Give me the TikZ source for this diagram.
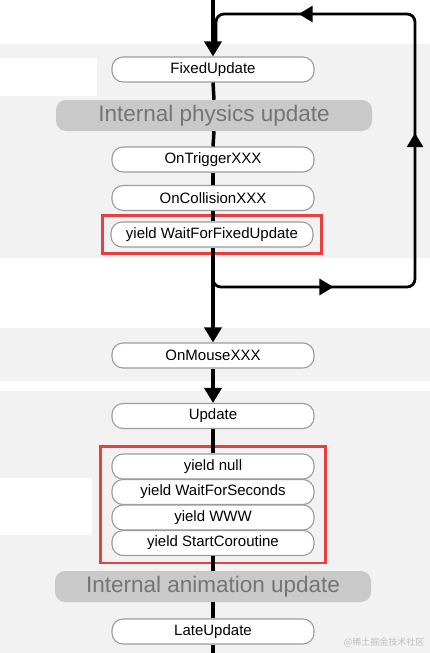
\documentclass[tikz,border=0pt]{standalone}
\usepackage{fontspec}
\setmainfont{Liberation Sans}
\newfontfamily\cjk{Noto Sans CJK SC}
\usetikzlibrary{arrows.meta,decorations.markings,fit}
\definecolor{bandgray}{HTML}{F2F2F2}
\definecolor{lblfill}{HTML}{C9C9C9}
\definecolor{lbltext}{HTML}{757575}
\definecolor{evtborder}{HTML}{9C9C9C}
\definecolor{redmark}{HTML}{E8403F}
\tikzset{
  evt/.style={draw=evtborder, line width=1.1pt, fill=white, rounded corners=11pt,
    minimum width=202pt, minimum height=25pt, inner sep=0pt,
    font=\fontsize{15}{17}\selectfont},
  lbl/.style={fill=lblfill, rounded corners=10pt, minimum width=316pt,
    minimum height=31pt, inner sep=0pt, text=lbltext,
    font=\fontsize{22.5}{25}\selectfont},
  redbox/.style={draw=redmark, line width=2.8pt, inner sep=0pt},
  mainline/.style={line width=3.5pt, black},
  tip/.style={-{Triangle[length=15pt,width=17pt]}},
  loopline/.style={line width=2.8pt, black, rounded corners=8pt},
  midtip/.tip={Triangle[length=14pt,width=16pt]}
}
\begin{document}
\begin{tikzpicture}[x=1pt,y=-1pt]
\useasboundingbox (0,0) rectangle (430,653);
% background bands
\fill[bandgray] (0,44) rectangle (430,258);
\fill[bandgray] (0,328) rectangle (430,381);
\fill[bandgray] (0,391) rectangle (430,653);
% white patches
\fill[white] (0,58) rectangle (97,96);
\fill[white] (0,478) rectangle (92,535);

% coordinates
\coordinate (top) at (213,0);
\coordinate (bot) at (213,653);
\coordinate (ls) at (213,262);
\coordinate (lb) at (415,287);
\coordinate (lt) at (415,14);
\coordinate (le) at (216,42);

% nodes
\node[evt] (fixed) at (213,69.5) {FixedUpdate};
\node[lbl] (phys) at (214,115.5) {Internal physics update};
\node[evt] (trig) at (213,159.5) {OnTriggerXXX};
\node[evt] (coll) at (213,198) {OnCollisionXXX};
\node[evt] (wffu) at (212,234.5) {yield WaitForFixedUpdate};
\node[evt] (mouse) at (213,355.5) {OnMouseXXX};
\node[evt] (update) at (213,416) {Update};
\node[evt] (ynull) at (213,466.5) {yield null};
\node[evt] (ywait) at (213,492) {yield WaitForSeconds};
\node[evt] (ywww) at (213,517.5) {yield WWW};
\node[evt] (ystart) at (213,543) {yield StartCoroutine};
\node[lbl] (anim) at (213,586.5) {Internal animation update};
\node[evt] (late) at (213,631.5) {LateUpdate};

% red highlight boxes
\node[redbox, inner xsep=8pt, inner ysep=6pt, fit=(wffu)] (red1) {};
\node[redbox, inner xsep=11pt, inner ysep=7pt, fit=(ynull)(ystart)] (red2) {};

% main flow
\draw[mainline, tip] (top) -- (fixed.north);
\draw[mainline] (fixed.south) -- (phys.north);
\draw[mainline] (phys.south) -- (trig.north);
\draw[mainline] (trig.south) -- (coll.north);
\draw[mainline] (coll.south) -- (coll.south |- wffu.north);
\draw[mainline, tip] (wffu.south -| mouse) -- (mouse.north);
\draw[mainline, tip] (mouse.south) -- (update.north);
\draw[mainline] (update.south) -- (ynull.north);
\draw[mainline] (ystart.south) -- (anim.north);
\draw[mainline] (anim.south) -- (late.north);
\draw[mainline] (late.south) -- (bot);

% loop back
\draw[loopline, postaction={decorate}, decoration={markings,
    mark=at position 142pt with {\arrow{midtip}},
    mark=at position 374pt with {\arrow{midtip}},
    mark=at position 606pt with {\arrow{midtip}}}]
  (ls) |- (lb) -- (lt) -| (le);

% watermark
\node[text=black!25, font=\cjk\fontsize{9}{10}\selectfont, anchor=east] (wm) at (428,642) {@稀土掘金技术社区};
\end{tikzpicture}
\end{document}
